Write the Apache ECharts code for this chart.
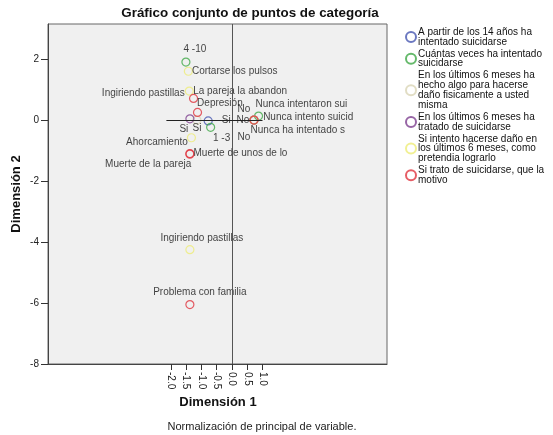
<!DOCTYPE html>
<html><head><meta charset="utf-8">
<script src="https://cdn.jsdelivr.net/npm/echarts@6/dist/echarts.min.js"></script>
<style>html,body{margin:0;padding:0;background:#fff}#c{width:553px;height:435px}</style>
</head><body><div id="c"></div>
<script>
// ---- data ----
const seriesNames = [
  'A partir de los 14 años ha\nintentado suicidarse',
  'Cuántas veces ha intentado\nsuicidarse',
  'En los últimos 6 meses ha\nhecho algo para hacerse\ndaño fisicamente a usted\nmisma',
  'En los últimos 6 meses ha\ntratado de suicidarse',
  'Si intento hacerse daño en\nlos últimos 6 meses, como\npretendia lograrlo',
  'Si trato de suicidarse, que la\nmotivo'
];
const catsA = ['Si', 'No'];
const ptsA = [[-0.78, -0.03], [0.72, 0.0]];
const catsB = ['4 -10', '1 -3', 'Nunca intento suicid'];
const ptsB = [[-1.51, 1.90], [-0.70, -0.24], [0.87, 0.13]];
const catsC = ['Si', 'No'];
const ptsC = [[-1.15, 0.0], [0.72, 0.0]];
const catsD = ['Si', 'No'];
const ptsD = [[-1.38, 0.04], [0.72, 0.0]];
const catsE = ['Cortarse los pulsos', 'Ingiriendo pastillas', 'Ahorcamiento', 'Ingiriendo pastillas', 'Nunca ha intentado s'];
const ptsE = [[-1.43, 1.60], [-1.40, 0.95], [-1.33, -0.58], [-1.38, -4.25], [0.72, 0.0]];
const catsF = ['La pareja la abandon', 'Depresión', 'Muerte de unos de lo', 'Muerte de la pareja', 'Problema con familia', 'Nunca intentaron sui'];
const ptsF = [[-1.26, 0.71], [-1.13, 0.25], [-1.38, -1.10], [-1.38, -1.12], [-1.38, -6.05], [0.72, 0.0]];
const xTicks = [-2.0, -1.5, -1.0, -0.5, 0.0, 0.5, 1.0];
const yTicks = [-8, -6, -4, -2, 0, 2];

// ---- styling (label placement per point, colours) ----
const colors = ['#4656b0', '#3fa846', '#d9d5b5', '#7d3f8f', '#eeec78', '#e0343f'];
const labelPlace = [
  [['right', [4, -1]], ['left', [5, 0]]],
  [['top', [9, 2]], ['bottom', [11, -4]], ['right', [-5, 1]]],
  [['bottom', [0, -6]], ['left', [6, 17]]],
  [['bottom', [-6, -4]], ['left', [6, -11]]],
  [['right', [-6, 0]], ['left', [5, 2]], ['left', [6, 5]], ['top', [12, 3]], ['right', [-13, 10]]],
  [['right', [-10, -7]], ['right', [-10, -9]], ['right', [-6, 0]], ['left', [11, 10]], ['top', [10, 2]], ['right', [-8, -16]]]
];
const allCats = [catsA, catsB, catsC, catsD, catsE, catsF];
const allPts = [ptsA, ptsB, ptsC, ptsD, ptsE, ptsF];
const FONT = "'Liberation Sans', Arial, sans-serif";

const series = seriesNames.map((nm, si) => ({
  type: 'scatter',
  name: nm,
  symbol: 'circle',
  symbolSize: 8,
  itemStyle: { color: 'transparent', borderColor: colors[si], borderWidth: 1.2 },
  label: { show: true, formatter: '{b}', color: '#111', fontSize: 10, fontFamily: FONT },
  emphasis: { disabled: true },
  data: allPts[si].map((p, i) => ({
    value: p,
    name: allCats[si][i],
    label: { position: labelPlace[si][i][0], offset: labelPlace[si][i][1], distance: 5 }
  }))
}));

series.push({
  type: 'scatter',
  data: [],
  silent: true,
  markLine: {
    silent: true,
    symbol: 'none',
    label: { show: false },
    animation: false,
    data: [
      { xAxis: 0, lineStyle: { color: '#555', width: 1, type: 'solid' } },
      [{ coord: [-2.15, 0], lineStyle: { color: '#222', width: 1, type: 'solid' } }, { coord: [1.0, 0] }]
    ]
  }
});

const chart = echarts.init(document.getElementById('c'));
chart.setOption({
  animation: false,
  backgroundColor: '#fff',
  textStyle: { fontFamily: FONT },
  grid: { left: 48, top: 24, right: 166, bottom: 71, show: true, backgroundColor: '#f0f0f0', borderColor: '#666', borderWidth: 1 },
  xAxis: {
    type: 'value', min: -6.03, max: 5.08,
    splitLine: { show: false },
    axisLine: { show: true, onZero: false, lineStyle: { color: '#444' } },
    axisTick: { show: true, length: 6, customValues: xTicks, lineStyle: { color: '#333' } },
    axisLabel: { customValues: xTicks, rotate: -90, fontSize: 10, color: '#222', margin: 8, formatter: v => v.toFixed(1) }
  },
  yAxis: {
    type: 'value', min: -8, max: 3.15,
    splitLine: { show: false },
    axisLine: { show: true, onZero: false, lineStyle: { color: '#444' } },
    axisTick: { show: true, length: 7, customValues: yTicks, lineStyle: { color: '#333' } },
    axisLabel: { customValues: yTicks, fontSize: 10, color: '#222', margin: 9 }
  },
  legend: {
    data: seriesNames,
    orient: 'vertical',
    left: 405, top: 27,
    padding: 0,
    itemWidth: 10, itemHeight: 10, itemGap: 2,
    icon: 'circle',
    selectedMode: false,
    textStyle: { fontSize: 10, lineHeight: 9.8, color: '#111', fontFamily: FONT, padding: [0, 0, 0, -3] }
  },
  graphic: [
    { type: 'text', x: 250, y: 13, style: { text: 'Gráfico conjunto de puntos de categoría', font: "bold 13.4px 'Liberation Sans', Arial, sans-serif", fill: '#111', align: 'center', verticalAlign: 'middle' } },
    { type: 'text', x: 218, y: 402, style: { text: 'Dimensión 1', font: "bold 13px 'Liberation Sans', Arial, sans-serif", fill: '#111', align: 'center', verticalAlign: 'middle' } },
    { type: 'text', x: 16, y: 194, rotation: Math.PI / 2, style: { text: 'Dimensión 2', font: "bold 13px 'Liberation Sans', Arial, sans-serif", fill: '#111', align: 'center', verticalAlign: 'middle' } },
    { type: 'text', x: 262, y: 427, style: { text: 'Normalización de principal de variable.', font: "11px 'Liberation Sans', Arial, sans-serif", fill: '#222', align: 'center', verticalAlign: 'middle' } }
  ],
  series: series
});
</script>
</body></html>
